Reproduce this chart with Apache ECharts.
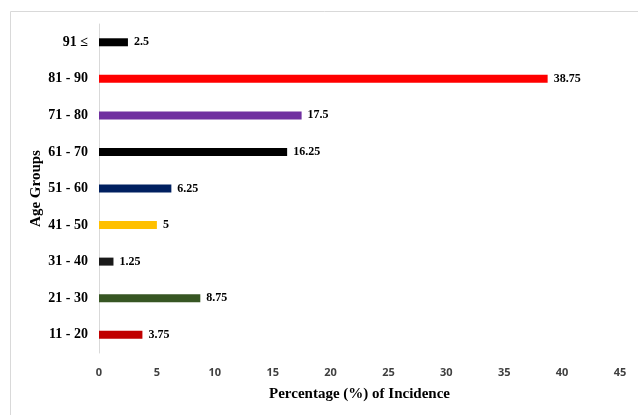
<!DOCTYPE html>
<html><head><meta charset="utf-8">
<script src="https://cdn.jsdelivr.net/npm/echarts@6/dist/echarts.min.js"></script>
<style>html,body{margin:0;padding:0;background:#fff}#c{width:638px;height:415px}</style>
</head><body><div id="c"></div>
<script>
const categories = ['11 - 20','21 - 30','31 - 40','41 - 50','51 - 60','61 - 70','71 - 80','81 - 90','91 \u2264'];
const values = [3.75, 8.75, 1.25, 5, 6.25, 16.25, 17.5, 38.75, 2.5];
const barColors = ['#C00000','#375623','#1A1A1A','#FFC000','#002060','#000000','#7030A0','#FF0000','#000000'];
const xTicks = [0,5,10,15,20,25,30,35,40,45];
const chart = echarts.init(document.getElementById('c'));
chart.setOption({
  animation:false,
  graphic:[{type:'rect',left:8,top:9,shape:{width:700,height:500},style:{fill:'none',stroke:'#D9D9D9',lineWidth:1},silent:true}],
  grid:{left:99,right:18,top:24,bottom:62},
  xAxis:{type:'value',min:0,max:45,interval:5,
    axisLine:{show:false},axisTick:{show:false},splitLine:{show:false},
    axisLabel:{color:'#404040',fontFamily:'Open Sans',fontWeight:'bold',fontSize:11,margin:14,
      formatter:v=>xTicks.includes(v)?String(v):''},
    name:'Percentage (%) of Incidence',nameLocation:'middle',nameGap:34,nameMoveOverlap:false,
    nameTextStyle:{color:'#000',fontFamily:'Liberation Serif',fontWeight:'bold',fontSize:15}},
  yAxis:{type:'category',data:categories,
    axisLine:{show:true,lineStyle:{color:'#D9D9D9',width:1}},axisTick:{show:false},
    axisLabel:{color:'#000',fontFamily:'Liberation Serif',fontWeight:'bold',fontSize:14,margin:11},
    name:'Age Groups',nameLocation:'middle',nameGap:55,nameRotate:90,nameMoveOverlap:false,
    nameTextStyle:{color:'#000',fontFamily:'Liberation Serif',fontWeight:'bold',fontSize:15}},
  series:[{type:'bar',barWidth:8,
    data:values.map((v,i)=>({value:v,itemStyle:{color:barColors[i]}})),
    label:{show:true,position:'right',distance:6,color:'#000',fontFamily:'Liberation Serif',fontWeight:'bold',fontSize:12}}]
});
</script></body></html>
